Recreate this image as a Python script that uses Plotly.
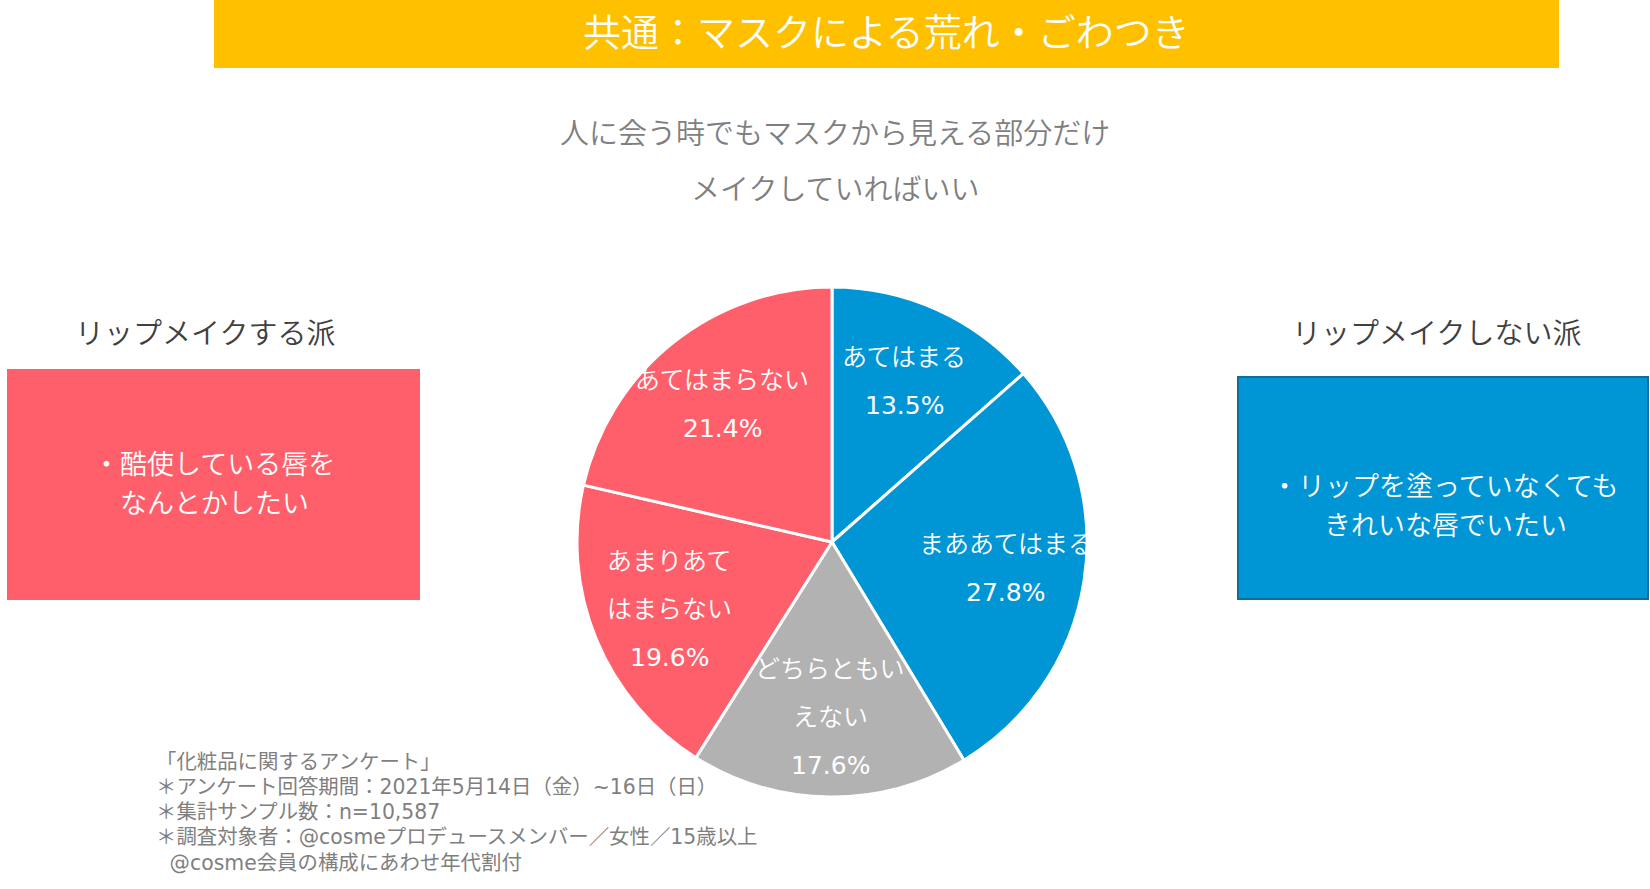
import math
import plotly.graph_objects as go

# ---------------- data ----------------
categories = ["あてはまる", "まああてはまる", "どちらともいえない", "あまりあてはまらない", "あてはまらない"]
label_lines = [["あてはまる"], ["まああてはまる"], ["どちらともい", "えない"], ["あまりあて", "はまらない"], ["あてはまらない"]]
values = [13.5, 27.8, 17.6, 19.6, 21.4]
slice_colors = ["#0096D6", "#0096D6", "#B2B2B2", "#FF5F6B", "#FF5F6B"]

title_text = "共通：マスクによる荒れ・ごわつき"
question_lines = ["人に会う時でもマスクから見える部分だけ", "メイクしていればいい"]
left_header = "リップメイクする派"
left_body = ["・酷使している唇を", "なんとかしたい"]
right_header = "リップメイクしない派"
right_body = ["・リップを塗っていなくても", "きれいな唇でいたい"]
footnote_lines = [
    "「化粧品に関するアンケート」",
    "＊アンケート回答期間：2021年5月14日（金）~16日（日）",
    "＊集計サンプル数：n=10,587",
    "＊調査対象者：@cosmeプロデュースメンバー／女性／15歳以上",
    "\u2002\u2006@cosme会員の構成にあわせ年代割付",
]

# ---------------- layout geometry ----------------
W, H = 1650, 889
CX, CY, R = 832, 542, 255
FONT = "DejaVu Sans, Noto Sans CJK JP, sans-serif"
JFONT = "Noto Sans CJK JP, sans-serif"

def px(x):
    return x / W

def py(y):
    return 1 - y / H

fig = go.Figure()
fig.add_trace(go.Pie(
    labels=categories,
    values=values,
    sort=False,
    direction="clockwise",
    rotation=0,
    marker=dict(colors=slice_colors, line=dict(color="white", width=3)),
    textinfo="none",
    hoverinfo="skip",
    domain=dict(x=[px(CX - R), px(CX + R)], y=[py(CY + R), py(CY - R)]),
    showlegend=False,
))

annotations = []
shapes = []

def note(text, x, y, size, color, family=JFONT, xanchor="center", weight=350):
    annotations.append(dict(text=text, x=px(x), y=py(y), xref="paper", yref="paper",
                            showarrow=False, xanchor=xanchor, yanchor="middle",
                            align="left" if xanchor == "left" else "center",
                            font=dict(family=family, size=size, color=color, weight=weight)))

# title bar
shapes.append(dict(type="rect", xref="paper", yref="paper",
                   x0=px(214), x1=px(1559), y0=py(68), y1=py(0),
                   fillcolor="#FFC000", line=dict(width=0), layer="below"))
note(title_text, 886, 30, 38, "white")

# question text
for line, yy in zip(question_lines, [131, 187]):
    note(line, 835, yy, 29, "#7F7F7F")

# left panel
note(left_header, 205, 331, 29, "#404040")
shapes.append(dict(type="rect", xref="paper", yref="paper",
                   x0=px(7), x1=px(420), y0=py(600), y1=py(369),
                   fillcolor="#FF5F6B", line=dict(width=0), layer="below"))
for line, yy in zip(left_body, [462.5, 501.5]):
    note(line, 214, yy, 27, "white")

# right panel
note(right_header, 1436, 331, 29, "#404040")
shapes.append(dict(type="rect", xref="paper", yref="paper",
                   x0=px(1238), x1=px(1648), y0=py(599), y1=py(377),
                   fillcolor="#0096D6", line=dict(width=2, color="#0B6E9E"), layer="below"))
for line, yy in zip(right_body, [484.5, 523.5]):
    note(line, 1445, yy, 27, "white")

# pie labels, placed along each slice's mid angle
total = sum(values)
cum = 0.0
LINE_GAP = 48
for val, lines in zip(values, label_lines):
    mid = (cum + val / 2) / total * 2 * math.pi
    cum += val
    r = 0.69 * R
    lx = CX + r * math.sin(mid)
    ly = CY - r * math.cos(mid)
    all_lines = lines + [f"{val:.1f}%"]
    n = len(all_lines)
    for k, t in enumerate(all_lines):
        yy = ly + (k - (n - 1) / 2) * LINE_GAP
        is_pct = (k == n - 1)
        note(t, lx, yy, 25, "white", family=FONT, weight=400 if is_pct else 350)

# footnote
for i, line in enumerate(footnote_lines):
    note(line, 154, 761.5 + i * 25.3, 20.4, "#7F7F7F", family=FONT, xanchor="left", weight=400)

fig.update_layout(
    width=W, height=H,
    margin=dict(l=0, r=0, t=0, b=0),
    paper_bgcolor="white", plot_bgcolor="white",
    shapes=shapes, annotations=annotations,
    showlegend=False,
)

fig.write_html("out.html", config={"displayModeBar": False},
               post_script="document.body.style.margin='0';document.body.style.overflow='hidden';")
